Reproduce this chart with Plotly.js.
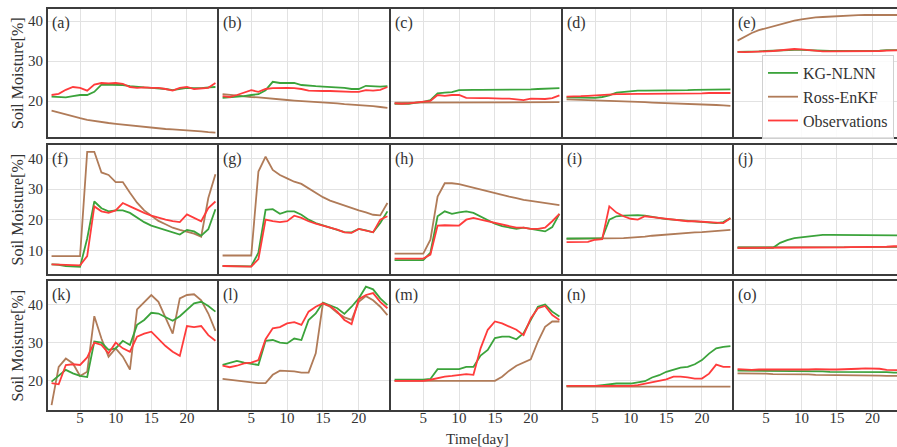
<!DOCTYPE html>
<html>
<head>
<meta charset="utf-8">
<script src="https://cdn.plot.ly/plotly-3.0.1.min.js"></script>
<style>html,body{margin:0;padding:0;background:#fff;}#chart{width:897px;height:447px;}</style>
</head>
<body>
<div id="chart"></div>
<script>
const days = [1,2,3,4,5,6,7,8,9,10,11,12,13,14,15,16,17,18,19,20,21,22,23,24];
const seriesNames = ['KG-NLNN', 'Ross-EnKF', 'Observations'];
const panelLabels = ['(a)','(b)','(c)','(d)','(e)','(f)','(g)','(h)','(i)','(j)','(k)','(l)','(m)','(n)','(o)'];
const xTicks = [5, 10, 15, 20];
const yTicksRow = [[20, 30, 40], [10, 20, 30, 40], [20, 30, 40]];
const yTitle = 'Soil Moisture[%]';
const xTitle = 'Time[day]';

// (a)
const kg_a = [21.1,21,20.9,21.2,21.5,21.5,22.3,24.1,24.1,24.1,24,23.7,23.5,23.4,23.3,23.2,23,22.7,23,23.3,23.2,23.2,23.4,23.5];
const ross_a = [17.6,17.1,16.6,16.1,15.7,15.3,15,14.7,14.5,14.3,14.1,13.9,13.7,13.5,13.3,13.2,13,12.9,12.8,12.6,12.5,12.4,12.2,12.1];
const obs_a = [21.5,21.8,22.8,23.5,23.3,22.6,24.1,24.5,24.4,24.5,24.3,23.5,23.3,23.4,23.3,23.3,23,22.6,23.3,23.5,23,23.2,23.3,24.5];
// (b)
const kg_b = [20.8,20.9,21,21.2,21.5,21.7,22.7,24.8,24.5,24.5,24.5,24,23.8,23.7,23.6,23.5,23.5,23.3,23,23,23.8,23.7,23.6,23.7];
const ross_b = [21.7,21.5,21.4,21.2,21,20.9,20.7,20.6,20.4,20.25,20.1,20,19.9,19.7,19.6,19.5,19.4,19.2,19.1,19,18.8,18.7,18.5,18.3];
const obs_b = [21.2,21,21.5,22.2,22.7,22.3,23,23.2,23.3,23.3,23.2,23,22.6,22.5,22.5,22.5,22.4,22.4,22.3,22.3,22.7,22.6,22.8,23.5];
// (c)
const kg_c = [19.3,19.3,19.3,19.6,19.8,20.2,21.9,22.1,22.2,22.7,22.8,22.8,22.8,22.8,22.8,22.8,22.8,22.8,22.8,22.9,23,23.1,23.1,23.2];
const ross_c = [19.6,19.6,19.6,19.6,19.6,19.6,19.7,19.7,19.7,19.7,19.7,19.7,19.7,19.7,19.7,19.7,19.7,19.7,19.7,19.7,19.7,19.7,19.7,19.7];
const obs_c = [19.4,19.3,19.4,19.6,19.8,20,21.5,21.3,21.5,21.5,20.8,20.7,20.7,20.7,20.6,20.6,20.6,20.4,20.2,20.6,20.6,20.5,20.7,21.4];
// (d)
const kg_d = [20.9,20.9,20.8,20.8,20.8,21,21.4,22.1,22.3,22.5,22.6,22.6,22.6,22.6,22.7,22.7,22.7,22.7,22.8,22.8,22.8,22.9,22.9,22.9];
const ross_d = [20.4,20.35,20.3,20.2,20.15,20.1,20,20,19.9,19.8,19.75,19.7,19.6,19.55,19.5,19.45,19.4,19.3,19.25,19.2,19.1,19,18.9,18.8];
const obs_d = [21.1,21.1,21.2,21.3,21.4,21.6,21.7,21.7,21.7,21.8,21.8,21.8,21.8,21.8,21.8,21.9,21.9,21.9,21.9,21.9,22,22,22,22];
// (e)
const kg_e = [32.3,32.3,32.3,32.4,32.5,32.6,32.7,32.8,32.8,32.8,32.7,32.6,32.5,32.5,32.5,32.5,32.5,32.5,32.5,32.6,32.6,32.7,32.7,32.7];
const ross_e = [35.1,36.1,37,37.7,38.2,38.7,39.2,39.7,40.1,40.4,40.7,40.9,41,41.1,41.3,41.35,41.4,41.45,41.5,41.5,41.5,41.5,41.5,41.5];
const obs_e = [32.3,32.2,32.3,32.3,32.4,32.5,32.7,32.8,33,32.9,32.7,32.5,32.4,32.4,32.4,32.4,32.4,32.5,32.5,32.5,32.5,32.6,32.7,32.7];
// (f)
const kg_f = [5.6,5.5,5.1,5,4.8,14,26,23.8,22.8,23.1,23.1,22.3,20.7,19.3,18.2,17.5,16.8,15.9,15.3,16.8,16.3,14.9,17,23.5];
const ross_f = [8.3,8.3,8.3,8.3,8.3,42.1,42.1,35.4,34.6,32.3,32.3,28.8,25.6,23.1,21.3,19.7,18.6,17.5,16.8,16.2,15.6,14.6,27.1,34.8];
const obs_f = [5.6,5.5,5.4,5.3,5.3,8.3,24.4,22.8,22.3,23.1,25.5,24.4,23.3,22.3,21.4,20.7,20.1,19.6,19.3,21.8,20.7,19.6,23.9,26];
// (g)
const kg_g = [5.1,5.1,5.1,5,5,9.4,23.3,23.5,22,22.8,22.8,21.7,20.1,19,18.3,17.6,16.9,16.1,16,17.1,16.6,16,19,22.8];
const ross_g = [8.5,8.5,8.5,8.5,8.5,35.7,40.5,36.2,34.6,33.5,32.4,31.7,30.3,28.7,27.4,26.3,25.5,24.6,23.9,23.1,22.5,21.7,21.5,25.5];
const obs_g = [5.1,5.1,5,5,4.9,7.3,20.1,19.6,19.3,19.6,21.4,20.7,19.6,18.8,18.2,17.5,16.9,16,15.8,17.1,16.6,16,20.1,21.2];
// (h)
const kg_h = [7,7,7,7,7,9.4,21.2,22.8,22,22.5,22.8,22.3,21.2,19.9,18.8,18,17.5,17.1,17.5,17.1,16.6,16.3,17.7,22];
const ross_h = [9.1,9.1,9.1,9.1,9.1,13.6,27.6,31.9,31.9,31.6,31,30.5,29.8,29.2,28.7,28.2,27.6,27.1,26.5,26.2,25.9,25.5,25.1,24.8];
const obs_h = [7.5,7.5,7.5,7.5,7.5,8.8,18.2,18.3,18.2,18.2,20.1,20.7,20.1,19.6,19,18.5,18,17.5,17.5,17.1,17.1,17.5,19.6,22];
// (i)
const kg_i = [14,14,14,14,14,14.1,20.1,21.2,21.4,21.6,21.6,21.4,21,20.6,20.3,20.1,19.9,19.7,19.6,19.5,19.3,19,19.3,20.6];
const ross_i = [13.9,13.9,13.9,13.9,13.9,13.9,13.9,14,14.1,14.3,14.4,14.6,14.9,15.1,15.4,15.6,15.8,15.9,16,16.1,16.3,16.5,16.6,16.8];
const obs_i = [12.8,12.8,12.8,12.9,13.6,13.8,24.4,22.4,21.2,20.4,20.1,21.2,20.9,20.6,20.4,20.1,19.9,19.6,19.6,19.5,19.4,19.3,19,20.6];
// (j)
const kg_j = [11,11,11,11,11,11,12.6,13.5,14.1,14.4,14.7,15,15.2,15.2,15.2,15.2,15.2,15.2,15.2,15.2,15.2,15.1,15.1,15];
const ross_j = [11.2,11.2,11.2,11.2,11.2,11.2,11.2,11.2,11.2,11.2,11.2,11.2,11.2,11.2,11.2,11.2,11.2,11.2,11.2,11.2,11.2,11.2,11.2,11.2];
const obs_j = [10.9,10.9,10.9,10.9,10.9,11,11,11,11,11.1,11.1,11.1,11,11.1,11.1,11.1,11.2,11.2,11.2,11.3,11.3,11.4,11.5,11.5];
// (k)
const kg_k = [19.7,21.2,22.8,21.9,21.2,20.9,30.3,30,28.1,28.5,30.5,29.4,34.7,36,37.9,37.7,36.8,35.8,37,38.6,40.4,40.8,39.7,38.2];
const ross_k = [13.5,23.6,25.8,24.5,21.2,22.3,37,31.1,26.3,28.5,26.3,22.9,38.8,40.8,42.6,40.8,36.8,32.4,41.7,42.6,42.8,41.2,37.7,33.1];
const obs_k = [19.3,19,24.1,24.3,24.1,26.1,30,29.4,27.2,30,28.5,27.6,31.6,32.4,32.9,31.1,29.1,27.6,26.5,34.4,34.1,34.4,32,30.5];
// (l)
const kg_l = [24.1,24.7,25.2,24.7,24.5,24.1,30.5,30.7,30,29.8,31.1,30.7,36,37.7,40.6,39.9,39.1,37.6,39.5,41.7,44.8,44.1,41.7,39.9];
const ross_l = [20.4,20.2,19.9,19.7,19.5,19.3,19.3,21.5,22.6,22.6,22.4,22.1,22.1,27.2,40.4,39.5,37.9,36.7,36,40.8,42.3,41.2,39.5,37.3];
const obs_l = [23.9,23.5,23.9,24.5,24.7,25.4,30.9,33.8,34.1,35.1,35.4,34.7,38.2,39.5,40.4,39.7,38.2,36,34.9,41.5,42.6,43.1,40.8,39.1];
// (m)
const kg_m = [20.2,20.2,20.2,20.2,20.2,20.4,23,23,23,23,23.6,23.6,26.6,28.1,31.2,31.6,31.6,30.9,32.5,36,39.5,40.1,38.2,36.9];
const ross_m = [19.9,19.9,19.9,19.9,19.9,19.9,19.9,19.9,19.9,19.9,19.9,19.9,19.9,19.9,19.9,21,22.6,23.9,24.7,25.6,30.3,34.2,35.6,35.6];
const obs_m = [19.9,19.9,19.8,19.9,19.9,20.2,20.6,21,21.2,21.5,21.7,21.5,28.5,33.4,35.6,35.1,34.2,33.4,32,36.4,39.1,39.7,37.3,36];
// (n)
const kg_n = [18.6,18.6,18.6,18.6,18.6,18.8,19.1,19.2,19.2,19.2,19.5,19.8,20.8,21.4,22.3,22.9,23.4,23.6,24.3,25.4,27.1,28.5,28.9,29.1];
const ross_n = [18.4,18.4,18.4,18.4,18.4,18.4,18.4,18.4,18.4,18.4,18.4,18.4,18.4,18.4,18.4,18.4,18.4,18.4,18.4,18.4,18.4,18.4,18.4,18.4];
const obs_n = [18.6,18.6,18.5,18.5,18.6,18.6,18.6,18.6,18.6,18.6,18.8,19.2,19.4,19.9,20.3,21,21,20.8,20.5,20.5,21.8,24.2,23.6,23.6];
// (o)
const kg_o = [22.6,22.6,22.5,22.5,22.5,22.5,22.5,22.5,22.4,22.4,22.4,22.4,22.4,22.3,22.3,22.3,22.3,22.3,22.2,22.2,22.2,22.2,22.1,22.1];
const ross_o = [21.9,21.9,21.8,21.8,21.8,21.7,21.7,21.7,21.6,21.6,21.6,21.5,21.5,21.5,21.5,21.4,21.4,21.4,21.3,21.3,21.3,21.2,21.2,21.2];
const obs_o = [23,22.9,22.8,22.9,22.9,22.9,22.9,22.8,22.9,22.9,22.9,23,22.9,22.9,22.9,22.9,22.9,23.1,23.2,23.2,23.1,22.8,22.7,22.7];

const kgAll = [kg_a,kg_b,kg_c,kg_d,kg_e,kg_f,kg_g,kg_h,kg_i,kg_j,kg_k,kg_l,kg_m,kg_n,kg_o];
const rossAll = [ross_a,ross_b,ross_c,ross_d,ross_e,ross_f,ross_g,ross_h,ross_i,ross_j,ross_k,ross_l,ross_m,ross_n,ross_o];
const obsAll = [obs_a,obs_b,obs_c,obs_d,obs_e,obs_f,obs_g,obs_h,obs_i,obs_j,obs_k,obs_l,obs_m,obs_n,obs_o];

// ---- styling / layout ----
const W = 897, H = 447;
const mL = 48, mR = 0, mT = 9, mB = 37;
const pw = W - mL - mR, ph = H - mT - mB;
const colPx = [[48,219],[219,391],[391,563],[563,734],[734,897]];
const rowPx = [[9,137],[145,274],[281,410]];
const yRanges = [[11,43],[2.5,44.3],[12.2,46.3]];
const colors = {kg:'#3ba33b', ross:'#b07b58', obs:'#ff3b3b'};
const serif = 'Liberation Serif, Times New Roman, serif';
const frame = '#3c3c3c';

const data = [];
const layout = {
  width: W, height: H,
  margin: {l: mL, r: mR, t: mT, b: mB, pad: 0},
  paper_bgcolor: '#fff', plot_bgcolor: '#fff',
  font: {family: serif, color: '#333', size: 14},
  showlegend: true,
  legend: {
    x: (762 - mL) / pw, y: (H - mB - 55) / ph, xanchor: 'left', yanchor: 'top',
    bgcolor: 'rgba(255,255,255,0.85)', bordercolor: '#d0d0d0', borderwidth: 1,
    font: {family: serif, size: 16, color: '#333'},
    tracegroupgap: 0, itemwidth: 30
  },
  annotations: []
};

for (let i = 0; i < 15; i++) {
  const row = Math.floor(i / 5), col = i % 5, n = i + 1;
  const xa = n === 1 ? 'x' : 'x' + n, ya = n === 1 ? 'y' : 'y' + n;
  const xk = n === 1 ? 'xaxis' : 'xaxis' + n, yk = n === 1 ? 'yaxis' : 'yaxis' + n;
  const xd = [(colPx[col][0] - mL) / pw, (colPx[col][1] - mL) / pw];
  const yd = [(H - mB - rowPx[row][1]) / ph, (H - mB - rowPx[row][0]) / ph];
  layout[xk] = {
    domain: xd.map(v => Math.max(0, Math.min(1, v))), anchor: ya,
    range: col === 4 ? [0.5, 0.5 + (colPx[4][1] - colPx[4][0]) / 7.1] : [0.5, 24.5],
    tickvals: xTicks, showticklabels: row === 2,
    tickfont: {family: serif, size: 15, color: '#333'},
    showgrid: true, gridcolor: '#e2e2e2', gridwidth: 1, zeroline: false,
    showline: true, linecolor: frame, linewidth: 2, mirror: true,
    ticks: '', ticklabelstandoff: -7, fixedrange: true
  };
  layout[yk] = {
    domain: yd.map(v => Math.max(0, Math.min(1, v))), anchor: xa,
    range: yRanges[row], tickvals: yTicksRow[row], showticklabels: col === 0,
    tickfont: {family: serif, size: 15, color: '#333'},
    showgrid: true, gridcolor: '#e2e2e2', gridwidth: 1, zeroline: false,
    showline: true, linecolor: frame, linewidth: 2, mirror: false,
    ticks: '', fixedrange: true
  };
  const base = {type: 'scatter', mode: 'lines', x: days, xaxis: xa, yaxis: ya, hoverinfo: 'skip', cliponaxis: true};
  data.push(Object.assign({}, base, {y: rossAll[i], name: seriesNames[1], line: {color: colors.ross, width: 1.8}, showlegend: i === 0, legendrank: 2}));
  data.push(Object.assign({}, base, {y: kgAll[i], name: seriesNames[0], line: {color: colors.kg, width: 1.8}, showlegend: i === 0, legendrank: 1}));
  data.push(Object.assign({}, base, {y: obsAll[i], name: seriesNames[2], line: {color: colors.obs, width: 1.8}, showlegend: i === 0, legendrank: 3}));
  layout.annotations.push({
    text: panelLabels[i], xref: xa + ' domain', yref: ya + ' domain', x: 0, y: 1,
    xanchor: 'left', yanchor: 'top', xshift: 2, yshift: -3, showarrow: false,
    font: {family: serif, size: 16, color: '#333'}
  });
}
for (let r = 0; r < 3; r++) {
  const cy = (rowPx[r][0] + rowPx[r][1]) / 2;
  layout.annotations.push({
    text: yTitle, xref: 'paper', yref: 'paper', x: (17 - mL) / pw, y: (H - mB - cy) / ph,
    xanchor: 'center', yanchor: 'middle', textangle: -90, showarrow: false,
    font: {family: serif, size: 16, color: '#333'}
  });
}
layout.annotations.push({
  text: xTitle, xref: 'paper', yref: 'paper', x: (477 - mL) / pw, y: (H - mB - 439) / ph,
  xanchor: 'center', yanchor: 'middle', showarrow: false,
  font: {family: serif, size: 15, color: '#333'}
});

Plotly.newPlot('chart', data, layout, {displayModeBar: false, staticPlot: true});
</script>
</body>
</html>
